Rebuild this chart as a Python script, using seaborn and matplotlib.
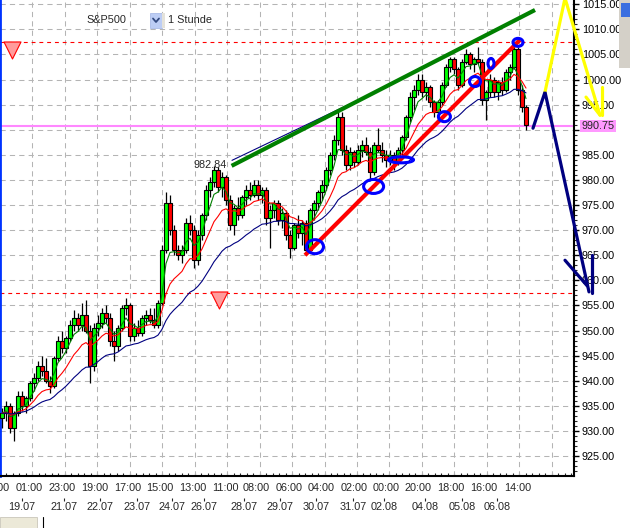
import numpy as np
import pandas as pd
import matplotlib
matplotlib.use("Agg")
import matplotlib.pyplot as plt
from matplotlib.patches import Ellipse, Rectangle
from matplotlib.lines import Line2D
from matplotlib.ticker import MultipleLocator, FixedLocator, FuncFormatter
import seaborn as sns

# ---- hourly S&P500 candles ----
opens = [932.5, 933.5, 935, 930.5, 933.5, 937, 935, 936.5, 939.5, 940.5,
         943, 942, 940, 939, 944.5, 948, 946.5, 948.5, 951, 952.5,
         951, 953, 950, 943, 950.5, 951.5, 953.5, 952.5, 948, 947,
         950.5, 954.5, 955, 949, 950.5, 949.5, 952.5, 953, 952, 951,
         955.5, 966, 975.5, 970, 966, 965, 966, 971.5, 970, 964,
         969, 973, 978, 979.5, 982, 978.5, 980.5, 976, 971, 974.5,
         973, 976.5, 978, 977, 979, 977, 978, 972.5, 974, 975.5,
         972, 973.5, 969, 966.5, 971, 969.5, 971.5, 966, 974, 975.5,
         977.5, 979, 982, 985, 988, 992.5, 986, 983, 985.5, 983.5,
         986, 987, 985.5, 981.5, 987, 986, 985, 984, 985, 983.5,
         986, 988.5, 992.5, 996.5, 998, 1000, 997.5, 998.5, 995.5, 993.5,
         995.5, 999, 1002.5, 1004, 1002, 999, 1003.5, 1005, 1003, 1004,
         1003.5, 996, 997.5, 1000, 997.5, 999.5, 998, 1001.5, 1002.5, 1006,
         998, 994.5]
highs = [934.5, 936, 935.5, 934, 938, 938, 937, 940, 941.5, 944,
         945, 944.5, 941, 945, 949, 950, 949, 952, 954, 953.5,
         955.5, 956, 951, 951.5, 953, 954.5, 955, 953.5, 950, 951,
         955, 956.5, 955.5, 951.5, 952, 953, 954, 954.5, 954.5, 956,
         967, 977.5, 977, 971, 967, 967, 972.5, 973, 971, 970,
         973.5, 979, 980.5, 982.84, 982.5, 981.5, 981, 977, 975, 976.5,
         977, 979, 979.5, 980, 980, 978.5, 978.5, 975, 976, 976,
         974.5, 974, 970, 971.5, 973, 972, 972, 974.5, 976, 978,
         980, 982.5, 985.5, 989, 993.8, 993.5, 987, 986.5, 986, 987,
         988, 988.5, 986.5, 987.5, 990.3, 987.5, 986, 986, 985.5, 986.5,
         989, 993, 997.5, 999, 1001, 1001, 999.5, 999, 996, 996,
         999.5, 1003, 1004.5, 1004.5, 1002.5, 1004, 1006, 1005.5, 1004.5, 1006.5,
         1004, 998, 1001, 1000.5, 1000, 1000.5, 1002, 1003, 1007.3, 1006.5,
         999, 995]
lows = [930.5, 932, 929.5, 928, 933, 934, 933.5, 936, 938, 940,
        941, 939.5, 937.5, 938.5, 944, 945.5, 945.5, 948, 950, 950,
        950, 949.5, 939.5, 942, 949, 950.5, 951.5, 947, 944, 946,
        950, 953, 948, 948, 949, 949, 951, 951.5, 950.5, 950.5,
        955, 965.5, 969, 965, 964, 963.5, 965.5, 969, 962.5, 963,
        968, 972, 976.5, 978.5, 977.5, 976.5, 975, 970, 969, 972,
        972.5, 975, 976, 976.5, 976, 975.5, 971, 966.5, 972.5, 971,
        970.5, 968, 964.5, 966, 968.5, 967, 965, 965.5, 972, 974,
        976, 978, 981, 984, 987, 985, 982, 982, 982.5, 983,
        984.5, 985, 980, 981, 985.5, 983.5, 982.5, 983, 982, 983,
        985, 988, 991.5, 994, 997, 996.5, 996, 994.5, 992.5, 992.5,
        995, 998.5, 1001.5, 1001, 998, 998.5, 1003, 1002, 1001.5, 1003,
        995, 992, 996.5, 996.5, 996, 997, 997.5, 1000, 1002, 997,
        993.5, 990]
closes = [933.5, 935, 930.5, 933.5, 937, 935, 936.5, 939.5, 940.5, 943,
          942, 940, 939, 944.5, 948, 946.5, 948.5, 951, 952.5, 951,
          953, 950, 943, 950.5, 951.5, 953.5, 952.5, 948, 947, 950.5,
          954.5, 955, 949, 950.5, 949.5, 952.5, 953, 952, 951, 955.5,
          966, 975.5, 970, 966, 965, 966, 971.5, 970, 964, 969,
          973, 978, 979.5, 982, 978.5, 980.5, 976, 971, 974.5, 973,
          976.5, 978, 977, 979, 977, 978, 972.5, 974, 975.5, 972,
          973.5, 969, 966.5, 971, 969.5, 971.5, 966, 974, 975.5, 977.5,
          979, 982, 985, 988, 992.5, 986, 983, 985.5, 983.5, 986,
          987, 985.5, 981.5, 987, 986, 985, 984, 985, 983.5, 986,
          988.5, 992.5, 996.5, 998, 1000, 997.5, 998.5, 995.5, 993.5, 995.5,
          999, 1002.5, 1004, 1002, 999, 1003.5, 1005, 1003, 1004, 1003.5,
          996, 997.5, 1000, 997.5, 999.5, 998, 1001.5, 1002.5, 1006, 998,
          994.5, 991]

time_bars = [-1.4, 6.75, 15.1, 23.25, 31.4, 39.5, 47.6, 55.75, 63.6, 71.9,
             79.75, 88, 96, 103.9, 112.25, 120.5, 129]
time_labels = ['03:00', '01:00', '23:00', '19:00', '17:00', '15:00', '13:00', '11:00', '08:00',
               '06:00', '04:00', '02:00', '00:00', '20:00', '18:00', '16:00', '14:00']
date_bars = [5, 15.5, 24.5, 33.75, 42.5, 50.5, 60.5, 69.5, 78.5, 87.75, 95.5, 105.75, 115, 123.75]
date_labels = ['19.07', '21.07', '22.07', '23.07', '24.07', '26.07', '28.07', '29.07',
               '30.07', '31.07', '02.08', '04.08', '05.08', '06.08']

last_price = 990.75
stop_levels = [1007.5, 957.5]
signal_bars = [2.4, 54.25]
signal_prices = [1005.8, 956.0]
high_label_bar, high_label_price = 48, 983.0

# drawn analysis lines (bar index, price)
wedge_top_x, wedge_top_y = [57.4, 133.25], [982.8, 1013.85]
wedge_top2_x, wedge_top2_y = [57.5, 99.5], [983.9, 999.9]
support_x, support_y = [75.75, 129.5], [965.0, 1007.9]
touch_bars = [78.25, 92.9, 99.75, 110.6, 118.25, 122.25, 129.0]
touch_prices = [966.7, 978.7, 984.0, 992.6, 999.6, 1003.2, 1007.4]
touch_size_px = [(17, 14), (20, 14), (25, 6), (12, 10), (11, 10), (6, 10), (10, 8)]
down_x, down_y = [132.75, 135.75, 146.75], [990.3, 997.5, 957.7]
down_head1_x, down_head1_y = [140.75, 146.3], [964.0, 958.9]
down_head2_x, down_head2_y = [147.5, 147.5], [965.0, 957.5]
up_x, up_y = [135.75, 140.75, 149.5], [997.5, 1016.2, 992.9]
up_head1_x, up_head1_y = [146.0, 149.5], [996.5, 992.9]
up_head2_x, up_head2_y = [150.0, 150.0], [998.5, 992.9]

df = pd.DataFrame({'bar': np.arange(len(closes)), 'open': opens, 'high': highs,
                   'low': lows, 'close': closes})

sns.set_style("white")
plt.rcParams['font.family'] = ['Liberation Sans', 'DejaVu Sans']
plt.rcParams['font.size'] = 7.8

W, H = 630, 528
fig = plt.figure(figsize=(W / 100, H / 100), dpi=100)
ax = fig.add_axes([0, 1 - 476 / H, 574 / W, 476 / H])
ax.set_facecolor('white')

# grid
grid_kw = dict(color='#b4b4b4', lw=0.75, ls=(0, (5, 4)), zorder=1)
for k in range(1, 18):
    ax.axvline((32.45 * k - 2) / 4, **grid_kw)
ax.grid(axis='y', which='major', **grid_kw)

# candles
up = df['close'] >= df['open']
ax.vlines(df['bar'], df['low'], df['high'], color='black', lw=0.9, zorder=3)
body = (df['close'] - df['open']).abs().clip(lower=0.2)
ax.bar(df['bar'], body, bottom=df[['open', 'close']].min(axis=1), width=0.8,
       color=np.where(up, '#00ff00', '#ff0000'), edgecolor='black', linewidth=0.8, zorder=4)

# moving averages
for span, col in [(5, '#008000'), (12, '#ff0000'), (28, '#000080')]:
    df[f'ema{span}'] = df['close'].ewm(span=span, adjust=False).mean()
    sns.lineplot(data=df, x='bar', y=f'ema{span}', ax=ax, color=col, lw=0.8,
                 estimator=None, zorder=5)
ax.set_xlabel('')
ax.set_ylabel('')

# level lines
for lvl in stop_levels:
    ax.axhline(lvl, color='#ff0000', lw=0.8, ls=(0, (3.5, 3.5)), zorder=2)
ax.axhline(last_price, color='#ff88ff', lw=1.5, zorder=2)
ax.scatter(signal_bars, signal_prices, marker='v', s=150, facecolor='#ff9c9c',
           edgecolor='#ff0000', lw=0.8, zorder=6)
ax.text(high_label_bar, high_label_price, '982.84', fontsize=7.8, va='center', ha='left', zorder=2)

# drawn trend lines
ax.plot(wedge_top2_x, wedge_top2_y, color='#000080', lw=0.8, zorder=7)
ax.plot(wedge_top_x, wedge_top_y, color='#008000', lw=3, solid_capstyle='butt', zorder=8)
ax.plot(support_x, support_y, color='#ff0000', lw=3, solid_capstyle='butt', zorder=8)
for bx, py, (wpx, hpx) in zip(touch_bars, touch_prices, touch_size_px):
    ax.add_patch(Ellipse((bx, py), wpx / 4, hpx / 5.02, fill=False, ec='#0000ff', lw=2.2, zorder=9))
arrow_kw = dict(lw=2.3, clip_on=False, zorder=10, solid_capstyle='round', solid_joinstyle='miter')
ax.plot(up_x, up_y, color='#ffff00', **arrow_kw)
ax.plot(up_head1_x, up_head1_y, color='#ffff00', **arrow_kw)
ax.plot(up_head2_x, up_head2_y, color='#ffff00', **arrow_kw)
ax.plot(down_x, down_y, color='#000080', **arrow_kw)
ax.plot(down_head1_x, down_head1_y, color='#000080', **arrow_kw)
ax.plot(down_head2_x, down_head2_y, color='#000080', **arrow_kw)

# axes
ax.set_xlim(-0.5, 143)
ax.set_ylim(921.02, 1015.84)
ax.yaxis.tick_right()
ax.yaxis.set_major_locator(MultipleLocator(5))
ax.yaxis.set_minor_locator(MultipleLocator(1))
ax.yaxis.set_major_formatter(FuncFormatter(lambda v, p: '' if abs(v - 990) < 0.1 else f'{v:.2f}'))
ax.tick_params(axis='y', which='major', direction='out', length=3.6, width=1, pad=2,
               labelsize=7.8, colors='black', right=True, left=False)
ax.tick_params(axis='y', which='minor', direction='out', length=2, width=0.8, right=True, left=False)
ax.xaxis.set_minor_locator(FixedLocator([(32.45 * k / 5 - 2) / 4 for k in range(0, 90)]))
ax.tick_params(axis='x', which='both', direction='in', length=2.5, width=0.8, bottom=True)
ax.set_xticks([])
for tb, tl in zip(time_bars, time_labels):
    ax.text(tb, -0.026, tl, transform=ax.get_xaxis_transform(), ha='center', va='center',
            fontsize=7.8, clip_on=False)
ax.spines['top'].set_visible(False)
ax.spines['left'].set_color('#0033ff')
ax.spines['left'].set_linewidth(2)
ax.spines['right'].set_color('black')
ax.spines['right'].set_linewidth(1.5)
ax.spines['bottom'].set_color('black')
ax.spines['bottom'].set_linewidth(1.5)

sec = ax.secondary_xaxis(-25 / 476)
sec.set_xticks(date_bars, labels=date_labels)
sec.tick_params(direction='in', length=2.5, width=0.8, pad=0.5, labelsize=7.8)
sec.spines['bottom'].set_visible(False)

ax.annotate(f'{last_price:.2f}', xy=(1, last_price), xycoords=ax.get_yaxis_transform(),
            xytext=(5.5, 0), textcoords='offset points', ha='left', va='center', fontsize=7.8,
            bbox=dict(boxstyle='square,pad=0.12', fc='#ff99ff', ec='none'), zorder=9,
            annotation_clip=False)

# header and window bits
def fx(x):
    return x / W

def fy(y):
    return 1 - y / H

fig.text(fx(86), fy(20), 'S&P500', fontsize=7.8, va='center', ha='left')
fig.patches.append(Rectangle((fx(150), fy(28)), 12 / W, 15 / H, transform=fig.transFigure,
                             fc='#bccdf5', ec='#a0b4e4', lw=0.5))
fig.lines.append(Line2D([fx(153), fx(156), fx(159)], [fy(18.5), fy(22), fy(18.5)],
                        transform=fig.transFigure, color='#334a80', lw=1.3))
fig.patches.append(Rectangle((fx(162), fy(28)), 3 / W, 15 / H, transform=fig.transFigure,
                             fc='#e4e2da', ec='none'))
fig.text(fx(168), fy(20), '1 Stunde', fontsize=7.8, va='center', ha='left')
fig.patches.append(Rectangle((fx(619), fy(68)), 11 / W, 68 / H, transform=fig.transFigure,
                             fc='#d4d0c8', ec='none'))
fig.patches.append(Rectangle((fx(621), fy(17)), 9 / W, 14 / H, transform=fig.transFigure,
                             fc='#3a6ee0', ec='none'))
fig.patches.append(Rectangle((fx(0), fy(528)), 37 / W, 11 / H, transform=fig.transFigure,
                             fc='#ece9d8', ec='#c0bdb0', lw=0.5))
fig.lines.append(Line2D([fx(43), fx(43)], [fy(517), fy(528)], transform=fig.transFigure,
                        color='black', lw=0.8))

fig.savefig('out.png', dpi=100)
